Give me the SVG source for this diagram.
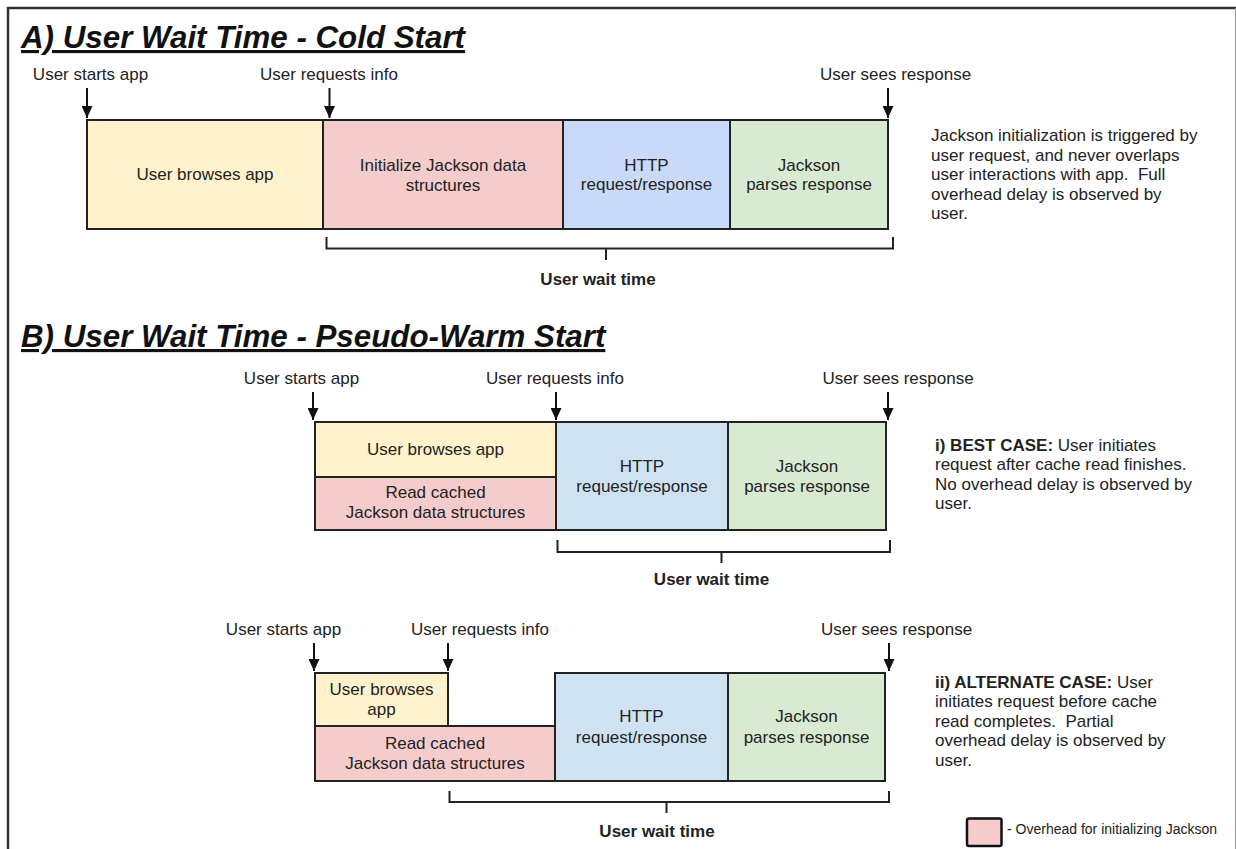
<svg xmlns="http://www.w3.org/2000/svg" width="1236" height="849" viewBox="0 0 1236 849">
<style>
text{font-family:"Liberation Sans",Arial,sans-serif;fill:#222;font-size:17px}
.c{text-anchor:middle}
.b{font-weight:bold}
.title{font-size:31.3px;font-weight:bold;font-style:italic;text-decoration:underline;fill:#111}
.box{stroke:#222;stroke-width:2}
.y{fill:#fff2cc}.p{fill:#f4cccc}.bA{fill:#c9daf8}.bB{fill:#cfe2f3}.g{fill:#d9ead3}
.arr{stroke:#111;stroke-width:2;fill:none;marker-end:url(#ah)}
.br{stroke:#222;stroke-width:2;fill:none}
.lg{font-size:14px}
.pre{white-space:pre}
</style>
<defs>
<marker id="ah" markerUnits="userSpaceOnUse" markerWidth="12" markerHeight="11" refX="12" refY="5.5" orient="auto"><path d="M0,0 L12,5.5 L0,11 z" fill="#111"/></marker>
</defs>
<rect width="1236" height="849" fill="#fff"/>
<g id="frame">
<path d="M1236,8 H8 V849" fill="none" stroke="#333" stroke-width="2.5"/>
<line x1="1235.5" y1="8" x2="1235.5" y2="849" stroke="#999" stroke-width="1"/>
</g>

<g id="titleA"><text class="title" x="21" y="48">A) User Wait Time - Cold Start</text></g>
<g id="titleB"><text class="title" x="21" y="347">B) User Wait Time - Pseudo-Warm Start</text></g>

<!-- Section A labels -->
<g id="A-lbl-start"><text class="c" x="90.5" y="80">User starts app</text></g>
<g id="A-lbl-req"><text class="c" x="329" y="80">User requests info</text></g>
<g id="A-lbl-sees"><text class="c" x="895.5" y="80">User sees response</text></g>

<!-- Section A boxes -->
<g id="A-browse"><rect class="box y" x="87" y="120" width="236" height="109"/><text class="c" x="205" y="180">User browses app</text></g>
<g id="A-init"><rect class="box p" x="323" y="120" width="240" height="109"/><text class="c" x="443" y="171">Initialize Jackson data</text><text class="c" x="443" y="190.5">structures</text></g>
<g id="A-http"><rect class="box bA" x="563" y="120" width="167" height="109"/><text class="c" x="646.5" y="170.5">HTTP</text><text class="c" x="646.5" y="190">request/response</text></g>
<g id="A-parse"><rect class="box g" x="730" y="120" width="158" height="109"/><text class="c" x="809" y="170.5">Jackson</text><text class="c" x="809" y="190">parses response</text></g>
<g id="A-wait"><text class="c b" x="598" y="285">User wait time</text></g>
<g id="A-note"><text x="931" y="141">Jackson initialization is triggered by</text><text x="931" y="160.5">user request, and never overlaps</text><text class="pre" xml:space="preserve" x="931" y="180">user interactions with app.  Full</text><text x="931" y="199.5">overhead delay is observed by</text><text x="931" y="219">user.</text></g>

<!-- Section B(i) labels -->
<g id="B1-lbl-start"><text class="c" x="301.5" y="384">User starts app</text></g>
<g id="B1-lbl-req"><text class="c" x="555" y="384">User requests info</text></g>
<g id="B1-lbl-sees"><text class="c" x="898" y="384">User sees response</text></g>

<g id="B1-browse"><rect class="box y" x="315" y="422" width="241" height="55"/><text class="c" x="435.5" y="455">User browses app</text></g>
<g id="B1-read"><rect class="box p" x="315" y="477" width="241" height="53"/><text class="c" x="435.5" y="498">Read cached</text><text class="c" x="435.5" y="517.5">Jackson data structures</text></g>
<g id="B1-http"><rect class="box bB" x="556" y="422" width="172" height="108"/><text class="c" x="642" y="472">HTTP</text><text class="c" x="642" y="491.5">request/response</text></g>
<g id="B1-parse"><rect class="box g" x="728" y="422" width="158" height="108"/><text class="c" x="807" y="472">Jackson</text><text class="c" x="807" y="491.5">parses response</text></g>
<g id="B1-wait"><text class="c b" x="711.5" y="585">User wait time</text></g>
<g id="B1-note"><text x="935" y="450.5"><tspan class="b">i) BEST CASE:</tspan> User initiates</text><text x="935" y="470">request after cache read finishes.</text><text x="935" y="489.5">No overhead delay is observed by</text><text x="935" y="509">user.</text></g>

<!-- Section B(ii) labels -->
<g id="B2-lbl-start"><text class="c" x="283.5" y="635">User starts app</text></g>
<g id="B2-lbl-req"><text class="c" x="480" y="635">User requests info</text></g>
<g id="B2-lbl-sees"><text class="c" x="896.5" y="635">User sees response</text></g>

<g id="B2-browse"><rect class="box y" x="315" y="673" width="133" height="53"/><text class="c" x="381.5" y="695">User browses</text><text class="c" x="381.5" y="715">app</text></g>
<g id="B2-read"><rect class="box p" x="315" y="726" width="240" height="55"/><text class="c" x="435" y="749">Read cached</text><text class="c" x="435" y="768.5">Jackson data structures</text></g>
<g id="B2-http"><rect class="box bB" x="555" y="673" width="173" height="108"/><text class="c" x="641.5" y="722">HTTP</text><text class="c" x="641.5" y="742.5">request/response</text></g>
<g id="B2-parse"><rect class="box g" x="728" y="673" width="157" height="108"/><text class="c" x="806.5" y="722">Jackson</text><text class="c" x="806.5" y="742.5">parses response</text></g>
<g id="B2-wait"><text class="c b" x="657" y="836.5">User wait time</text></g>
<g id="B2-note"><text x="935" y="687.5"><tspan class="b">ii) ALTERNATE CASE:</tspan> User</text><text x="935" y="707">initiates request before cache</text><text class="pre" xml:space="preserve" x="935" y="726.5">read completes.  Partial</text><text x="935" y="746">overhead delay is observed by</text><text x="935" y="765.5">user.</text></g>

<g id="legend"><rect x="967" y="818.5" width="34.5" height="27.5" rx="2" fill="#f4cccc" stroke="#111" stroke-width="2.5"/><text class="lg" x="1007" y="834">- Overhead for initializing Jackson</text></g>

<g id="connectors">
<line class="arr" x1="87" y1="88" x2="87" y2="118"/>
<line class="arr" x1="329.5" y1="88" x2="329.5" y2="118"/>
<line class="arr" x1="888" y1="88" x2="888" y2="118"/>
<path class="br" d="M326.5,237 V248.5 H893 V237 M606,248.5 V260"/>

<line class="arr" x1="313" y1="392" x2="313" y2="420"/>
<line class="arr" x1="556" y1="392" x2="556" y2="420"/>
<line class="arr" x1="888" y1="392" x2="888" y2="420"/>
<path class="br" d="M557.5,540 V552 H890 V540 M721.5,552 V563"/>

<line class="arr" x1="314" y1="643" x2="314" y2="671"/>
<line class="arr" x1="448" y1="643" x2="448" y2="671"/>
<line class="arr" x1="889" y1="643" x2="889" y2="671"/>
<path class="br" d="M449.5,791 V802 H889 V791 M666.5,802 V813"/>
</g>
</svg>
